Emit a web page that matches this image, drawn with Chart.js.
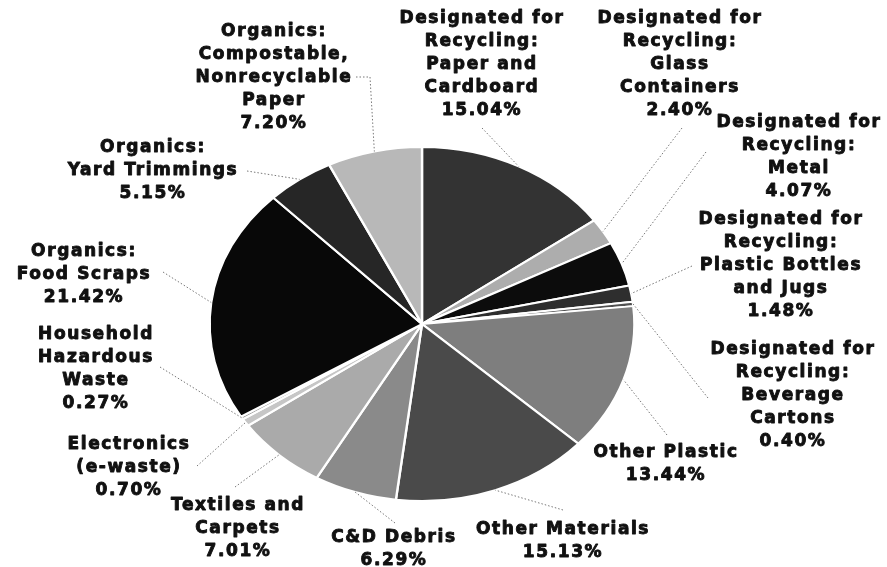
<!DOCTYPE html>
<html>
<head>
<meta charset="utf-8">
<script src="https://cdn.jsdelivr.net/npm/chart.js@4.4.1/dist/chart.umd.min.js"></script>
<style>
  html, body { margin: 0; padding: 0; background: #fff; }
  #wasteChart { display: block; }
</style>
</head>
<body>
<canvas id="wasteChart" width="887" height="567"></canvas>
<script>
// data (clockwise from 12 o'clock), \n = label line break
const categories = [
    'Designated for\nRecycling:\nPaper and\nCardboard',
    'Designated for\nRecycling:\nGlass\nContainers',
    'Designated for\nRecycling:\nMetal',
    'Designated for\nRecycling:\nPlastic Bottles\nand Jugs',
    'Designated for\nRecycling:\nBeverage\nCartons',
    'Other Plastic',
    'Other Materials',
    'C&D Debris',
    'Textiles and\nCarpets',
    'Electronics\n(e-waste)',
    'Household\nHazardous\nWaste',
    'Organics:\nFood Scraps',
    'Organics:\nYard Trimmings',
    'Organics:\nCompostable,\nNonrecyclable\nPaper'
];
const percents = [15.04, 2.40, 4.07, 1.48, 0.40, 13.44, 15.13, 6.29, 7.01, 0.70, 0.27, 21.42, 5.15, 7.20];

// styling / layout
const sliceColors = ['#333333', '#adadad', '#0c0c0c', '#2e2e2e', '#505050', '#7e7e7e', '#4a4a4a',
                     '#8a8a8a', '#aaaaaa', '#c6c6c6', '#9a9a9a', '#080808', '#262626', '#b8b8b8'];
const labelCenters = [[481, 19], [679, 19], [798, 123], [780, 220], [792, 350], [665, 453], [562, 530],
                      [393, 538], [237, 506], [128, 445], [95, 335], [83, 252], [152, 148], [273, 32]];
// where each dotted leader starts (extra points = elbows), it ends on the slice edge
const leaderStarts = [
    [[482, 128]], [[682, 128]], [[706, 152]], [[692, 266]], [[708, 398]], [[667, 435]], [[563, 510]],
    [[395, 523]], [[235, 487]], [[197, 466]], [[160, 367]], [[163, 272]], [[247, 171]],
    [[356, 77], [370, 77]]
];
const xStretch = 1.2;   // the pie in the picture is a bit wider than tall
const lineGap = 23;

const ellipsePlugin = {
    id: 'ellipse',
    beforeDatasetsDraw(chart) {
        const arc = chart.getDatasetMeta(0).data[0];
        const c = chart.ctx;
        c.save();
        c.translate(arc.x, arc.y);
        c.scale(xStretch, 1);
        c.translate(-arc.x, -arc.y);
    },
    afterDatasetsDraw(chart) {
        chart.ctx.restore();
    }
};

const labelPlugin = {
    id: 'sliceLabels',
    afterDraw(chart) {
        const c = chart.ctx;
        const arcs = chart.getDatasetMeta(0).data;
        c.save();
        // leader lines
        c.strokeStyle = '#777';
        c.lineWidth = 1;
        c.setLineDash([1.5, 2]);
        arcs.forEach((arc, i) => {
            const mid = (arc.startAngle + arc.endAngle) / 2;
            const px = arc.x + Math.cos(mid) * arc.outerRadius * xStretch;
            const py = arc.y + Math.sin(mid) * arc.outerRadius;
            const pts = leaderStarts[i];
            c.beginPath();
            c.moveTo(pts[0][0], pts[0][1]);
            for (let k = 1; k < pts.length; k++) c.lineTo(pts[k][0], pts[k][1]);
            c.lineTo(px, py);
            c.stroke();
        });
        c.setLineDash([]);
        // texts (a thin stroke makes them as heavy as the scanned ones)
        c.fillStyle = '#111';
        c.strokeStyle = '#111';
        c.lineWidth = 0.9;
        c.lineJoin = 'round';
        c.font = 'bold 17px "DejaVu Sans"';
        c.letterSpacing = '1.6px';
        c.textAlign = 'center';
        c.textBaseline = 'middle';
        categories.forEach((cat, i) => {
            const lines = cat.split('\n').concat(percents[i].toFixed(2) + '%');
            const [x, y] = labelCenters[i];
            lines.forEach((t, k) => {
                c.fillText(t, x + 1, y + k * lineGap);
                c.strokeText(t, x + 1, y + k * lineGap);
            });
        });
        c.restore();
    }
};

new Chart(document.getElementById('wasteChart').getContext('2d'), {
    type: 'pie',
    data: {
        labels: categories,
        datasets: [{
            data: percents,
            backgroundColor: sliceColors,
            borderColor: '#ffffff',
            borderWidth: 2
        }]
    },
    options: {
        responsive: false,
        animation: false,
        layout: { padding: { top: 146, bottom: 65, left: 244, right: 287 } },
        plugins: {
            legend: { display: false },
            tooltip: { enabled: false }
        }
    },
    plugins: [ellipsePlugin, labelPlugin]
});
</script>
</body>
</html>
